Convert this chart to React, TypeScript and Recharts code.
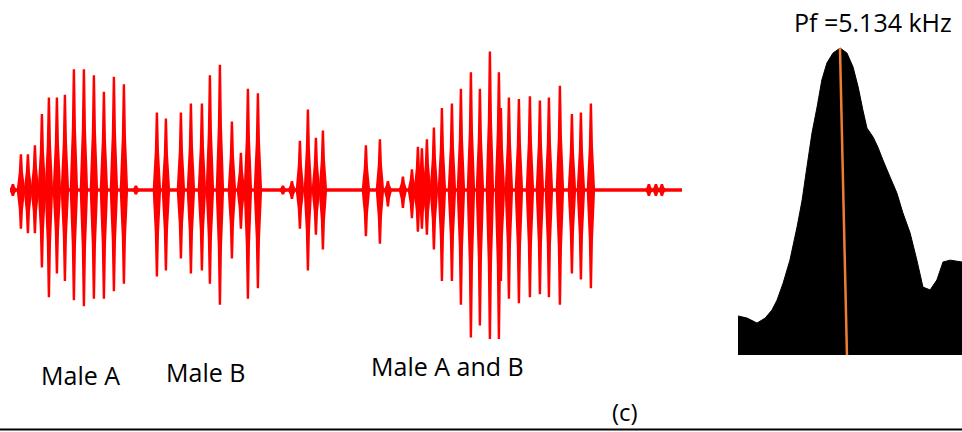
import React from "react";
import { ComposedChart, Bar, XAxis, YAxis, ReferenceLine, AreaChart, Area } from "recharts";

// Waveform pulses: time (ms), positive peak, negative peak (relative amplitude)
const PULSE_TIME = [15, 55, 90, 125, 160, 195, 235, 275, 320, 370, 420, 470, 520, 570, 630,
  735, 780, 855, 905, 960, 1000, 1050, 1110, 1155, 1190, 1240, 1365, 1410,
  1450, 1490, 1530, 1565, 1780, 1850, 1890, 1965, 2010, 2040, 2060, 2085, 2120,
  2160, 2210, 2255, 2305, 2350, 2400, 2445, 2455, 2495, 2545, 2600, 2650, 2695,
  2750, 2810, 2855, 2905, 3195, 3230, 3260];
const PULSE_HIGH = [0.04, 0.24, 0.24, 0.30, 0.51, 0.62, 0.62, 0.64, 0.81, 0.81, 0.77, 0.66, 0.76, 0.71, 0.03,
  0.52, 0.48, 0.52, 0.58, 0.58, 0.77, 0.84, 0.46, 0.25, 0.68, 0.65, 0.03, 0.06,
  0.33, 0.54, 0.35, 0.40, 0.30, 0.34, 0.06, 0.09, 0.14, 0.29, 0.28, 0.34, 0.42,
  0.55, 0.58, 0.68, 0.79, 0.68, 0.93, 0.79, 0.55, 0.62, 0.61, 0.63, 0.60, 0.62,
  0.70, 0.51, 0.52, 0.58, 0.04, 0.04, 0.04];
const PULSE_LOW = [-0.04, -0.26, -0.29, -0.29, -0.52, -0.72, -0.56, -0.61, -0.74, -0.78, -0.73, -0.73, -0.68, -0.63, -0.03,
  -0.58, -0.54, -0.46, -0.56, -0.54, -0.63, -0.77, -0.46, -0.26, -0.73, -0.66, -0.03, -0.06,
  -0.26, -0.54, -0.30, -0.40, -0.31, -0.36, -0.11, -0.12, -0.19, -0.28, -0.26, -0.30, -0.40,
  -0.61, -0.61, -0.77, -0.99, -0.91, -1.0, -1.0, -0.61, -0.73, -0.76, -0.72, -0.70, -0.72,
  -0.77, -0.56, -0.60, -0.66, -0.04, -0.04, -0.04];

// Spectrum: frequency (kHz) and relative level
const SPEC_FREQ = [2.0, 2.27, 2.56, 2.8, 3.0, 3.15, 3.33, 3.53, 3.74, 3.89, 4.03, 4.18, 4.33, 4.47, 4.62,
  4.8, 5.01, 5.21, 5.39, 5.54, 5.68, 5.8, 5.98, 6.12, 6.27, 6.48, 6.68, 6.86, 7.07, 7.27,
  7.45, 7.66, 7.86, 8.04, 8.25, 8.6];
const SPEC_LEVEL = [0.126, 0.119, 0.103, 0.119, 0.145, 0.177, 0.232, 0.306, 0.413, 0.5, 0.606, 0.716, 0.8, 0.887, 0.942,
  0.974, 0.99, 0.974, 0.929, 0.865, 0.79, 0.732, 0.703, 0.671, 0.629, 0.574, 0.523, 0.458, 0.394, 0.306,
  0.219, 0.21, 0.242, 0.3, 0.306, 0.3];

const PEAK_LABEL = "Pf =5.134 kHz";
const PEAK_LINE_TOP = { f: 5.005, v: 0.99 };
const PEAK_LINE_BOTTOM = { f: 5.21, v: 0 };

const LABELS = ["Male A", "Male B", "Male A and B"];
const PANEL_LABEL = "(c)";

const pulses = PULSE_TIME.map((t, i) => ({ t, hi: PULSE_HIGH[i], lo: PULSE_LOW[i] }));
const spectrum = SPEC_FREQ.map((f, i) => ({ f, v: SPEC_LEVEL[i] }));

const Spike = (props: any) => {
  const { x, y, width, height, payload } = props;
  if (height == null || isNaN(height)) return null;
  const hi = payload.hi;
  const lo = payload.lo;
  const baseY = y + (height * hi) / (hi - lo);
  const bot = y + height;
  const cx = x + width / 2;
  const up = baseY - y;
  const dn = bot - baseY;
  const pts = [
    [cx - 1.2, y], [cx + 1.2, y],
    [cx + 2.1, baseY - up * 0.5], [cx + 3.6, baseY - up * 0.15], [cx + 4.2, baseY],
    [cx + 3.6, baseY + dn * 0.15], [cx + 2.1, baseY + dn * 0.5], [cx + 1.2, bot],
    [cx - 1.2, bot], [cx - 2.1, baseY + dn * 0.5], [cx - 3.6, baseY + dn * 0.15],
    [cx - 4.2, baseY], [cx - 3.6, baseY - up * 0.15], [cx - 2.1, baseY - up * 0.5],
  ].map((p) => p.join(",")).join(" ");
  return <polygon points={pts} fill="#FF0000" />;
};

export default function App() {
  const font = "'Open Sans', sans-serif";
  return (
    <div style={{ position: "absolute", left: 0, top: 0, width: 962, height: 432, background: "#fff", overflow: "hidden" }}>
      <div style={{ position: "absolute", left: 10, top: 41 }}>
        <ComposedChart width={672} height={298} data={pulses} margin={{ top: 0, right: 0, bottom: 0, left: 0 }}>
          <XAxis dataKey="t" type="number" domain={[0, 3360]} hide />
          <YAxis type="number" domain={[-1, 1]} hide allowDataOverflow />
          <ReferenceLine y={0} stroke="#FF0000" strokeWidth={3.5} />
          <Bar dataKey={(d: any) => [d.lo, d.hi]} barSize={2} shape={<Spike />} isAnimationActive={false} />
        </ComposedChart>
      </div>
      <div style={{ position: "absolute", left: 738, top: 45 }}>
        <AreaChart width={224} height={310} data={spectrum} margin={{ top: 0, right: 0, bottom: 0, left: 0 }}>
          <XAxis dataKey="f" type="number" domain={[2.0, 8.6]} hide />
          <YAxis type="number" domain={[0, 1]} hide allowDataOverflow />
          <Area dataKey="v" type="linear" fill="#000" fillOpacity={1} stroke="#000" strokeWidth={1} isAnimationActive={false} />
          <ReferenceLine
            segment={[{ x: PEAK_LINE_TOP.f, y: PEAK_LINE_TOP.v }, { x: PEAK_LINE_BOTTOM.f, y: PEAK_LINE_BOTTOM.v }]}
            stroke="#ED7D31"
            strokeWidth={2.5}
            ifOverflow="visible"
          />
        </AreaChart>
      </div>
      <svg width={962} height={432} style={{ position: "absolute", left: 0, top: 0, pointerEvents: "none" }}>
        <text x={41} y={385} fontFamily={font} fontSize={25} fill="#000">{LABELS[0]}</text>
        <text x={166} y={382} fontFamily={font} fontSize={25} fill="#000">{LABELS[1]}</text>
        <text x={371} y={376} fontFamily={font} fontSize={25} fill="#000">{LABELS[2]}</text>
        <text x={612} y={421} fontFamily={font} fontSize={24} fill="#000">{PANEL_LABEL}</text>
        <text x={794} y={32} fontFamily={font} fontSize={25} fill="#000">{PEAK_LABEL}</text>
        <line x1={0} y1={429.5} x2={962} y2={429.5} stroke="#000" strokeWidth={2} />
      </svg>
    </div>
  );
}
